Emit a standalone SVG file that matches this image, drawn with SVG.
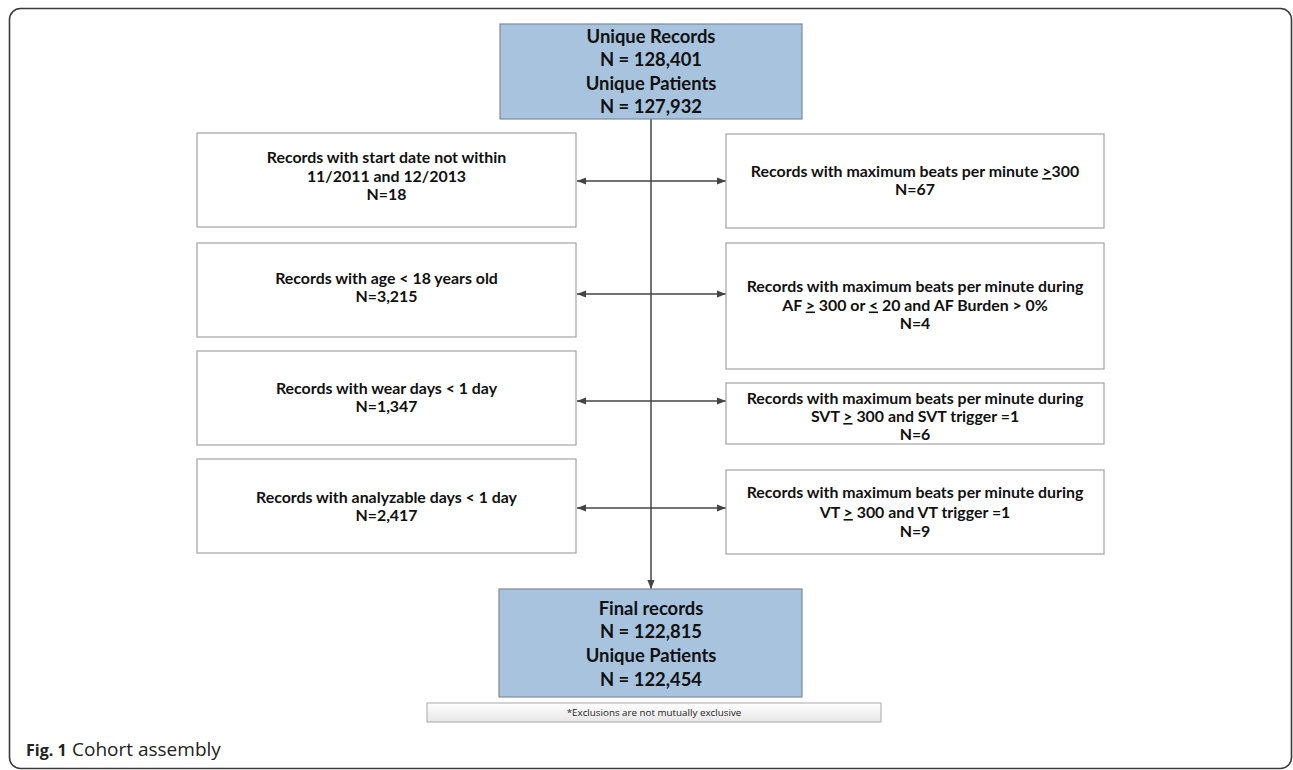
<svg xmlns="http://www.w3.org/2000/svg" width="1293" height="770" viewBox="0 0 1293 770">
<defs>
<style>
.frame{fill:#fff;stroke:#3a3a3a;stroke-width:1.6}
.blue{fill:#a7c3de;stroke:#7d8a99;stroke-width:1.2}
.ex{fill:#fff;stroke:#a3a3a3;stroke-width:1.2}
.t{font-family:Lato,"Liberation Sans",sans-serif;font-weight:bold;fill:#111;text-anchor:middle}
.big{font-size:18.4px}
.sm{font-size:15.9px}
.conn{stroke:#444;stroke-width:1.5;fill:none}
.note{font-family:"Open Sans","Liberation Sans",sans-serif;font-size:9.8px;fill:#222;text-anchor:middle}
.cap{font-family:"Open Sans","Liberation Sans",sans-serif;fill:#222}
</style>
<marker id="ah" viewBox="0 0 10 10" refX="10" refY="5" markerWidth="9" markerHeight="9" markerUnits="userSpaceOnUse" orient="auto-start-reverse">
<path d="M0,1 L10,5 L0,9 z" fill="#444"/>
</marker>
<linearGradient id="ng" x1="0" y1="0" x2="0" y2="1">
<stop offset="0" stop-color="#ffffff"/>
<stop offset="1" stop-color="#e6e6e6"/>
</linearGradient>
</defs>
<rect class="frame" x="9.5" y="8.5" width="1282" height="760" rx="11"/>

<g id="connectors">
<line class="conn" x1="651" y1="119" x2="651" y2="589" marker-end="url(#ah)"/>
<line class="conn" x1="577" y1="181" x2="726" y2="181" marker-start="url(#ah)" marker-end="url(#ah)"/>
<line class="conn" x1="577" y1="294" x2="726" y2="294" marker-start="url(#ah)" marker-end="url(#ah)"/>
<line class="conn" x1="577" y1="401" x2="726" y2="401" marker-start="url(#ah)" marker-end="url(#ah)"/>
<line class="conn" x1="577" y1="508" x2="726" y2="508" marker-start="url(#ah)" marker-end="url(#ah)"/>
</g>

<g id="start">
<rect class="blue" x="500" y="24" width="302" height="95"/>
<text class="t big" x="651" y="43">Unique Records</text>
<text class="t big" x="651" y="66">N = 128,401</text>
<text class="t big" x="651" y="90">Unique Patients</text>
<text class="t big" x="651" y="113">N = 127,932</text>
</g>

<g id="left1">
<rect class="ex" x="197" y="133" width="379" height="94"/>
<text class="t sm" x="386.5" y="163">Records with start date not within</text>
<text class="t sm" x="386.5" y="181.5">11/2011 and 12/2013</text>
<text class="t sm" x="386.5" y="199.5">N=18</text>
</g>

<g id="right1">
<rect class="ex" x="726" y="134" width="378" height="94"/>
<text class="t sm" x="915" y="177">Records with maximum beats per minute <tspan text-decoration="underline">&gt;</tspan>300</text>
<text class="t sm" x="915" y="195">N=67</text>
</g>

<g id="left2">
<rect class="ex" x="197" y="243" width="379" height="94"/>
<text class="t sm" x="386.5" y="284">Records with age &lt; 18 years old</text>
<text class="t sm" x="386.5" y="302">N=3,215</text>
</g>

<g id="right2">
<rect class="ex" x="726" y="243" width="378" height="126"/>
<text class="t sm" x="915" y="292">Records with maximum beats per minute during</text>
<text class="t sm" x="915" y="310.5">AF <tspan text-decoration="underline">&gt;</tspan> 300 or <tspan text-decoration="underline">&lt;</tspan> 20 and AF Burden &gt; 0%</text>
<text class="t sm" x="915" y="329">N=4</text>
</g>

<g id="left3">
<rect class="ex" x="197" y="351" width="379" height="94"/>
<text class="t sm" x="386.5" y="394">Records with wear days &lt; 1 day</text>
<text class="t sm" x="386.5" y="412">N=1,347</text>
</g>

<g id="right3">
<rect class="ex" x="726" y="383" width="378" height="61"/>
<text class="t sm" x="915" y="404">Records with maximum beats per minute during</text>
<text class="t sm" x="915" y="422">SVT <tspan text-decoration="underline">&gt;</tspan> 300 and SVT trigger =1</text>
<text class="t sm" x="915" y="440">N=6</text>
</g>

<g id="left4">
<rect class="ex" x="197" y="459" width="379" height="94"/>
<text class="t sm" x="386.5" y="503">Records with analyzable days &lt; 1 day</text>
<text class="t sm" x="386.5" y="521">N=2,417</text>
</g>

<g id="right4">
<rect class="ex" x="726" y="470" width="378" height="84"/>
<text class="t sm" x="915" y="498">Records with maximum beats per minute during</text>
<text class="t sm" x="915" y="518">VT <tspan text-decoration="underline">&gt;</tspan> 300 and VT trigger =1</text>
<text class="t sm" x="915" y="537">N=9</text>
</g>

<g id="final">
<rect class="blue" x="499" y="589" width="303" height="108"/>
<text class="t big" x="651" y="615">Final records</text>
<text class="t big" x="651" y="638">N = 122,815</text>
<text class="t big" x="651" y="662">Unique Patients</text>
<text class="t big" x="651" y="686">N = 122,454</text>
</g>

<g id="note">
<rect x="427" y="703" width="454" height="19" fill="url(#ng)" stroke="#a8a8a8" stroke-width="1"/>
<text class="note" x="654" y="716">*Exclusions are not mutually exclusive</text>
</g>

<text class="cap" x="26" y="756"><tspan font-weight="bold" font-size="16">Fig. 1</tspan><tspan x="72" font-size="19">Cohort assembly</tspan></text>
</svg>
